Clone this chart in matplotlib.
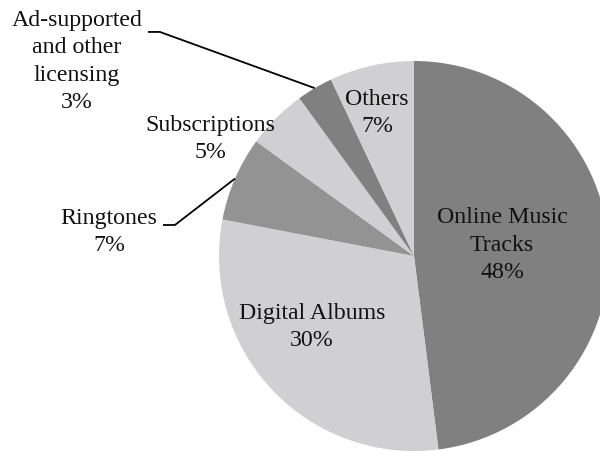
import numpy as np
import matplotlib
matplotlib.use("Agg")
import matplotlib.pyplot as plt

plt.rcParams['font.family'] = ['Liberation Serif', 'DejaVu Serif']

# revenue share by source, in percent (clockwise from 12 o'clock)
labels = ['Online Music\nTracks', 'Digital Albums', 'Ringtones',
          'Subscriptions', 'Ad-supported\nand other\nlicensing', 'Others']
shares = [48, 30, 7, 5, 3, 7]
colors = ['#808080', '#d0cfd1', '#939393', '#d0cfd1', '#808080', '#d0cfd1']

fig = plt.figure(figsize=(6.0, 4.51), dpi=100)
# the circle runs a little past the right and bottom edges
ax = fig.add_axes([0.365, 0.0, 0.65, 390 / 451])

wedges, _ = ax.pie(shares, colors=colors, startangle=90, counterclock=False,
                   wedgeprops=dict(linewidth=0))
ax.set_xlim(-1, 1)
ax.set_ylim(-1, 1)
ax.set_aspect('equal')
ax.axis('off')

fs = 17.2
# label placement: (x, y) in pie units, and leader line start for outside labels
label_pos = [(0.451, 0.056), (-0.523, -0.364), (-1.564, 0.123),
             (-1.046, 0.600), (-1.728, 0.997), (-0.190, 0.733)]
leader_start = {2: (-1.287, 0.159, -1.226), 4: (-1.364, 1.149, -1.303)}

for i, (lab, val) in enumerate(zip(labels, shares)):
    x, y = label_pos[i]
    ax.text(x, y, f'{lab}\n{val}%', ha='center', va='center', fontsize=fs,
            color='#111111', linespacing=1.4, clip_on=False)
    if i in leader_start:
        w = wedges[i]
        mid = np.deg2rad((w.theta1 + w.theta2) / 2)
        ex, ey = np.cos(mid), np.sin(mid)
        x0, y0, x1 = leader_start[i]
        ax.plot([x0, x1, ex], [y0, y0, ey], color='black', lw=1.3,
                clip_on=False, solid_capstyle='butt')

fig.savefig('out.png', dpi=100)
